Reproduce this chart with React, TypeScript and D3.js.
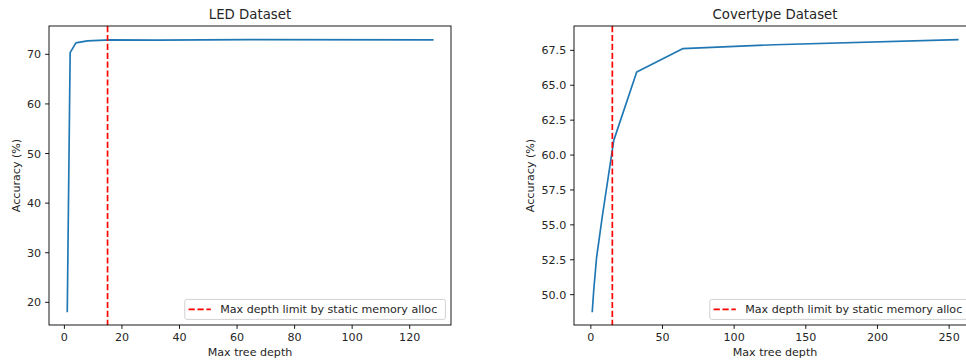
import React from "react";
import * as d3 from "d3";

// tree depths tested (powers of two)
const ledDepths = [1, 2, 4, 8, 16, 32, 64, 128];
const ledAccuracy = [18.17, 70.35, 72.3, 72.7, 72.9, 72.85, 72.97, 72.9];

const covDepths = [1, 2, 4, 8, 16, 32, 64, 128, 256];
const covAccuracy = [48.8, 50.3, 52.65, 55.6, 61.05, 65.95, 67.62, 67.9, 68.27];

const ledXTicks = [0, 20, 40, 60, 80, 100, 120];
const ledYTicks = [20, 30, 40, 50, 60, 70];
const covXTicks = [0, 50, 100, 150, 200, 250];
const covYTicks = [50, 52.5, 55, 57.5, 60, 62.5, 65, 67.5];

const depthLimit = 15;
const legendLabel = "Max depth limit by static memory alloc";

const FONT = "DejaVu Sans, sans-serif";
const FS = 11.1;
const TEXT = "#262626";

// matplotlib-style 5% padding around the data
function padded(vals: number[]): [number, number] {
  const [lo, hi] = d3.extent(vals) as [number, number];
  const m = (hi - lo) * 0.05;
  return [lo - m, hi + m];
}

type PanelProps = {
  title: string;
  xs: number[];
  ys: number[];
  xTicks: number[];
  yTicks: number[];
  yFmt: (v: number) => string;
  left: number;
  right: number;
  ylabelOffset: number;
};

function Panel({ title, xs, ys, xTicks, yTicks, yFmt, left, right, ylabelOffset }: PanelProps) {
  const top = 26;
  const bottom = 325;
  const x = d3.scaleLinear().domain(padded(xs)).range([left, right]);
  const y = d3.scaleLinear().domain(padded(ys)).range([bottom, top]);
  const pts = xs.map((d, i) => [d, ys[i]] as [number, number]);
  const line = d3.line<[number, number]>().x(d => x(d[0])).y(d => y(d[1]));
  const tick = 3.9;
  const cx = (left + right) / 2;

  const legW = 260.6;
  const legH = 20;
  const legX = right - 5.6 - legW;
  const legY = bottom - 5.6 - legH;

  return (
    <g fontFamily={FONT}>
      <text x={cx} y={19} textAnchor="middle" fontSize={13.3} fill={TEXT}>{title}</text>
      <path d={line(pts) || ""} fill="none" stroke="#1f77b4" strokeWidth={1.67} strokeLinejoin="round" strokeLinecap="square" />
      <line x1={x(depthLimit)} x2={x(depthLimit)} y1={top} y2={bottom} stroke="red" strokeWidth={1.67} strokeDasharray="6.2,2.7" />
      <rect x={left} y={top} width={right - left} height={bottom - top} fill="none" stroke="#000" strokeWidth={0.9} />
      {xTicks.map(t => (
        <g key={"x" + t}>
          <line x1={x(t)} x2={x(t)} y1={bottom} y2={bottom + tick} stroke="#000" strokeWidth={0.9} />
          <text x={x(t)} y={341} textAnchor="middle" fontSize={FS} fill={TEXT}>{t}</text>
        </g>
      ))}
      {yTicks.map(t => (
        <g key={"y" + t}>
          <line x1={left - tick} x2={left} y1={y(t)} y2={y(t)} stroke="#000" strokeWidth={0.9} />
          <text x={left - 2 * tick} y={y(t)} dy="0.36em" textAnchor="end" fontSize={FS} fill={TEXT}>{yFmt(t)}</text>
        </g>
      ))}
      <text x={cx} y={356} textAnchor="middle" fontSize={FS} fill={TEXT}>Max tree depth</text>
      <text transform={`translate(${left - ylabelOffset},${(top + bottom) / 2}) rotate(-90)`} textAnchor="middle" fontSize={FS} fill={TEXT}>Accuracy (%)</text>
      <rect x={legX} y={legY} width={legW} height={legH} rx={2} fill="#fff" fillOpacity={0.8} stroke="#cccccc" strokeWidth={0.9} />
      <line x1={legX + 3.8} x2={legX + 26} y1={legY + legH / 2} y2={legY + legH / 2} stroke="red" strokeWidth={1.67} strokeDasharray="6.2,2.7" />
      <text x={legX + 35.4} y={legY + legH / 2} dy="0.36em" fontSize={FS} fill={TEXT}>{legendLabel}</text>
    </g>
  );
}

export default function App() {
  return (
    <svg width={966} height={362} style={{ position: "absolute", left: 0, top: 0, background: "#fff" }}>
      <rect width={966} height={362} fill="#fff" />
      <Panel
        title="LED Dataset"
        xs={ledDepths}
        ys={ledAccuracy}
        xTicks={ledXTicks}
        yTicks={ledYTicks}
        yFmt={d3.format("d")}
        left={49}
        right={451}
        ylabelOffset={29.5}
      />
      <Panel
        title="Covertype Dataset"
        xs={covDepths}
        ys={covAccuracy}
        xTicks={covXTicks}
        yTicks={covYTicks}
        yFmt={d3.format(".1f")}
        left={574}
        right={976}
        ylabelOffset={40}
      />
    </svg>
  );
}
